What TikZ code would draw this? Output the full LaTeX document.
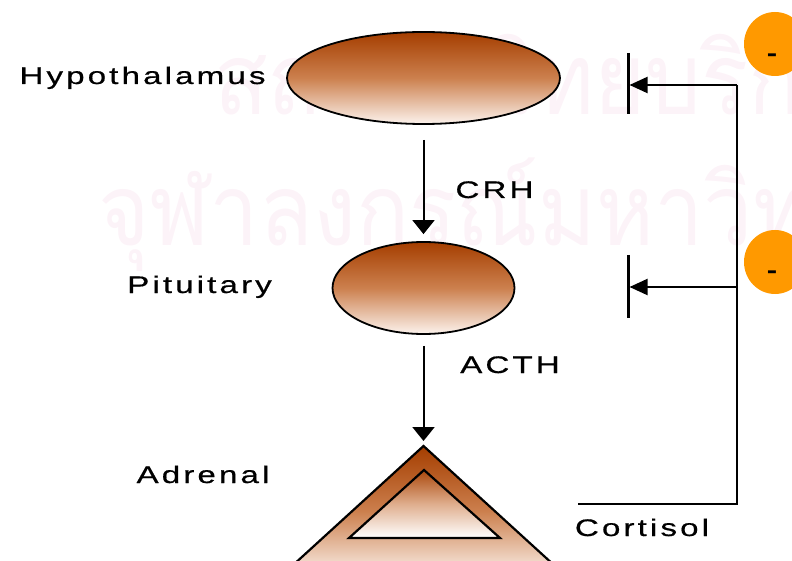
\documentclass[tikz,border=0pt]{standalone}
\usepackage{fontspec}
\usetikzlibrary{arrows.meta,shapes.geometric}
\newfontfamily\LabelFamily{Liberation Sans}[FakeStretch=1.38,LetterSpace=13,FakeBold=0.6]
\newfontfamily\MinusFamily{Liberation Sans Bold}[FakeStretch=1.3]
\newfontfamily\thaifont[Script=Thai,FakeStretch=0.88]{Loma}
\newcommand{\FigureFont}{\LabelFamily\fontsize{24}{28}\selectfont}
\newcommand{\MinusFont}{\MinusFamily\fontsize{24}{28}\selectfont}
\newcommand{\StampFont}{\thaifont\fontsize{100}{110}\selectfont}
\definecolor{glandtop}{RGB}{165,62,0}
\definecolor{glandmid}{RGB}{204,128,78}
\definecolor{glandlow}{RGB}{252,243,237}
\definecolor{inhibitorange}{RGB}{255,153,0}
\definecolor{stamppink}{RGB}{252,243,248}

\begin{document}
\begin{tikzpicture}[x=1pt,y=-1pt,text=black,
  gland/.style={ellipse,draw=black,line width=1.8pt,inner sep=0pt,
    top color=glandtop,bottom color=glandlow,middle color=glandmid},
  labeltext/.style={font=\FigureFont,anchor=base,inner sep=0pt},
  signal/.style={draw=black,line width=2pt,-{Triangle[width=22pt,length=14pt]}},
  feedback/.style={draw=black,line width=2pt},
  blockbar/.style={draw=black,line width=3pt},
  inhibitmark/.style={ellipse,fill=inhibitorange,inner sep=0pt,minimum width=62pt,minimum height=64pt},
  stamp/.style={font=\StampFont,text=stamppink,anchor=base west,inner sep=0pt}]
  \useasboundingbox (0,0) rectangle (792,561);
  \begin{scope}
    \clip (0,0) rectangle (792,561);
    \node[stamp] (stampone) at (214,115) {สถาบันวิทยบริการ};
    \node[stamp] (stamptwo) at (98,246) {จุฬาลงกรณ์มหาวิทยาลัย};
  \end{scope}
  \node[gland,minimum width=273pt,minimum height=92pt] (hypothalamus) at (423.5,78) {};
  \node[gland,minimum width=182pt,minimum height=92pt] (pituitary) at (423.5,288) {};
  \draw[line width=2.2pt,top color=glandtop,bottom color=glandlow,middle color=glandmid]
    (280,577) -- (423.5,446) -- (567,577) -- cycle;
  \draw[line width=2.2pt,top color=glandtop!85!glandmid,bottom color=white,middle color=glandmid!60!glandlow]
    (349,538) -- (424,470) -- (500,538) -- cycle;
  \coordinate (adrenal) at (423.5,446);
  \node[labeltext] (hypolabel) at (142.5,84) {Hypothalamus};
  \node[labeltext] (pitlabel) at (199.5,293) {Pituitary};
  \node[labeltext] (adrenallabel) at (203,483) {Adrenal};
  \node[labeltext] (crhlabel) at (494.5,198) {CRH};
  \node[labeltext] (acthlabel) at (510,373) {ACTH};
  \node[labeltext] (cortisollabel) at (642,536) {Cortisol};
  \draw[signal,shorten <=15pt,shorten >=7pt] (hypothalamus) -- (pituitary);
  \draw[signal,shorten <=11pt,shorten >=5pt] (pituitary) -- (adrenal);
  \coordinate (hypobar) at (628,85);
  \coordinate (pitbar) at (628,287);
  \coordinate (feedtop) at (737,85);
  \coordinate (feedmid) at (737,287);
  \coordinate (feedlow) at (737,504);
  \coordinate (cortisolend) at (578,504);
  \draw[blockbar] (628,53) -- (628,114);
  \draw[blockbar] (628,255) -- (628,318);
  \draw[feedback,line join=miter] (cortisolend) -- (feedlow) -- (feedtop);
  \draw[feedback,-{Triangle[width=16pt,length=18pt]},shorten >=1.5pt] (feedtop) -- (hypobar);
  \draw[feedback,-{Triangle[width=16pt,length=18pt]},shorten >=1.5pt] (feedmid) -- (pitbar);
  \node[inhibitmark] (hypominus) at (775,44) {};
  \node[inhibitmark] (pitminus) at (775,262) {};
  \node[font=\MinusFont,anchor=base,inner sep=0pt] (hypominustext) at (772,62) {-};
  \node[font=\MinusFont,anchor=base,inner sep=0pt] (pitminustext) at (772,279) {-};
\end{tikzpicture}
\end{document}
